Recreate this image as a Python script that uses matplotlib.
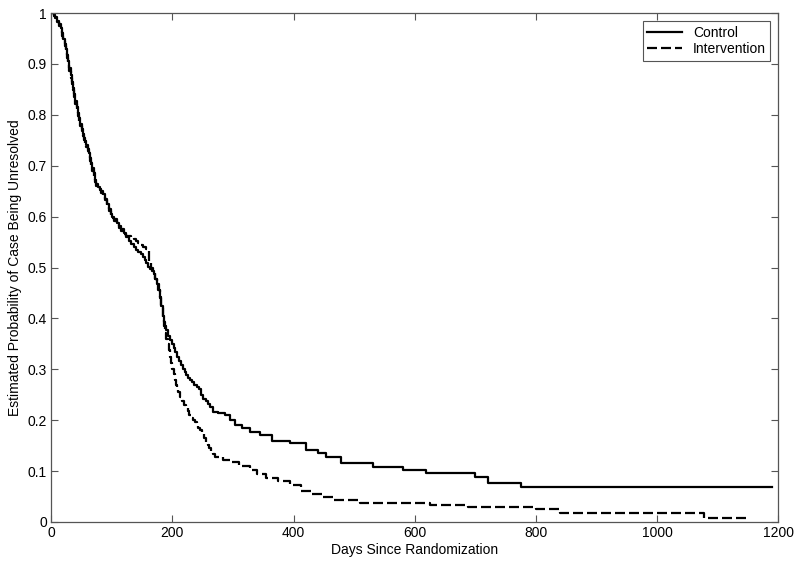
import numpy as np
import matplotlib
matplotlib.use("Agg")
import matplotlib.pyplot as plt

plt.rcParams["font.family"] = ["Liberation Sans", "DejaVu Sans"]

# Kaplan-Meier style estimates (days, probability)
control_days = [0, 4, 7, 10, 13, 16, 18, 20, 22, 24, 26, 28, 30, 32, 34, 36, 38,
                40, 42, 44, 46, 48, 50, 52, 54, 56, 58, 60, 62, 64, 66, 68, 70,
                72, 74, 77, 80, 83, 86, 89, 92, 95, 98, 101, 104, 108, 112, 116,
                120, 124, 128, 132, 136, 140, 144, 148, 151, 154, 157, 160, 163,
                166, 169, 172, 175, 178, 180, 182, 184, 186, 188, 190, 193, 196,
                199, 202, 205, 208, 211, 214, 217, 220, 223, 226, 229, 232, 236,
                240, 244, 247, 251, 255, 258, 262, 267, 275, 287, 295, 303, 315,
                328, 345, 364, 394, 421, 440, 454, 479, 531, 581, 619, 699, 721,
                776, 1190]
control_prob = [1.0, 0.997, 0.992, 0.985, 0.978, 0.97, 0.96, 0.95, 0.94, 0.93,
                0.918, 0.905, 0.892, 0.878, 0.865, 0.852, 0.84, 0.828, 0.815,
                0.803, 0.793, 0.782, 0.773, 0.763, 0.755, 0.748, 0.74, 0.733,
                0.725, 0.715, 0.705, 0.695, 0.685, 0.672, 0.664, 0.658, 0.655,
                0.65, 0.645, 0.635, 0.625, 0.615, 0.606, 0.6, 0.595, 0.588, 0.582,
                0.576, 0.568, 0.56, 0.553, 0.547, 0.54, 0.535, 0.531, 0.527, 0.52,
                0.514, 0.508, 0.502, 0.497, 0.493, 0.488, 0.478, 0.468, 0.455,
                0.443, 0.425, 0.405, 0.393, 0.385, 0.377, 0.366, 0.357, 0.35,
                0.342, 0.335, 0.325, 0.316, 0.308, 0.3, 0.294, 0.288, 0.283,
                0.279, 0.275, 0.27, 0.266, 0.262, 0.25, 0.242, 0.237, 0.232,
                0.226, 0.217, 0.215, 0.21, 0.2, 0.19, 0.185, 0.177, 0.17, 0.16,
                0.155, 0.141, 0.135, 0.128, 0.115, 0.109, 0.102, 0.096, 0.088,
                0.077, 0.068, 0.068]

interv_days = [0, 4, 7, 10, 13, 16, 18, 20, 22, 24, 26, 28, 30, 32, 34, 36, 38,
               40, 42, 44, 46, 48, 50, 52, 54, 56, 58, 60, 62, 64, 66, 68, 70,
               72, 74, 77, 80, 83, 86, 89, 92, 95, 98, 101, 104, 108, 112, 116,
               120, 124, 128, 132, 136, 140, 144, 148, 152, 156, 160, 162, 165,
               168, 171, 174, 177, 180, 182, 184, 186, 188, 190, 192, 194, 196,
               198, 200, 202, 204, 206, 208, 210, 213, 216, 219, 222, 225, 228,
               231, 234, 237, 240, 243, 246, 249, 252, 255, 258, 261, 264, 267,
               270, 283, 295, 310, 328, 340, 355, 375, 394, 413, 430, 449, 465,
               509, 625, 688, 800, 840, 1078, 1153]
interv_prob = [1.0, 0.995, 0.99, 0.982, 0.975, 0.965, 0.955, 0.945, 0.935, 0.925,
               0.912, 0.9, 0.887, 0.873, 0.86, 0.848, 0.835, 0.822, 0.81, 0.798,
               0.788, 0.778, 0.768, 0.758, 0.75, 0.743, 0.736, 0.728, 0.72, 0.71,
               0.7, 0.69, 0.68, 0.668, 0.661, 0.656, 0.652, 0.647, 0.64, 0.632,
               0.622, 0.612, 0.604, 0.598, 0.592, 0.585, 0.578, 0.572, 0.566,
               0.562, 0.562, 0.558, 0.556, 0.553, 0.548, 0.544, 0.54, 0.536,
               0.532, 0.51, 0.5, 0.49, 0.478, 0.467, 0.455, 0.44, 0.42, 0.4,
               0.385, 0.371, 0.36, 0.35, 0.337, 0.325, 0.312, 0.3, 0.29, 0.279,
               0.27, 0.262, 0.255, 0.246, 0.238, 0.23, 0.224, 0.218, 0.211, 0.205,
               0.2, 0.196, 0.19, 0.185, 0.18, 0.172, 0.165, 0.158, 0.152, 0.145,
               0.139, 0.133, 0.128, 0.122, 0.118, 0.11, 0.102, 0.095, 0.086,
               0.08, 0.073, 0.06, 0.055, 0.05, 0.043, 0.038, 0.033, 0.029, 0.025,
               0.018, 0.0085, 0.0085]

fig = plt.figure(figsize=(8, 5.68), dpi=100)
ax = fig.add_axes([0.064, 0.081, 0.909, 0.896])

ax.plot(control_days, control_prob, drawstyle="steps-post", color="black",
        lw=1.6, label="Control")
ax.plot(interv_days, interv_prob, drawstyle="steps-post", color="black",
        lw=1.6, linestyle=(0, (4.5, 1.8)), label="Intervention")

ax.set_xlim(0, 1200)
ax.set_ylim(0, 1)
ax.set_xticks(np.arange(0, 1201, 200))
ax.set_yticks(np.arange(0, 1.01, 0.1))
ax.set_yticklabels(["0", "0.1", "0.2", "0.3", "0.4", "0.5", "0.6", "0.7",
                    "0.8", "0.9", "1"])
ax.tick_params(direction="in", top=True, right=True, length=5, width=0.8,
               color="#555555", labelsize=10, pad=3)
for s in ax.spines.values():
    s.set_color("#555555")
    s.set_linewidth(0.9)

ax.set_xlabel("Days Since Randomization", fontsize=10, labelpad=2)
ax.set_ylabel("Estimated Probability of Case Being Unresolved", fontsize=10,
              labelpad=4)

leg = ax.legend(loc="upper right", fontsize=10, fancybox=False,
                framealpha=1, borderaxespad=0.6, handlelength=2.5,
                borderpad=0.3, labelspacing=0.2)
leg.get_frame().set_edgecolor("#555555")
leg.get_frame().set_linewidth(0.8)

fig.savefig("out.png", dpi=100)
